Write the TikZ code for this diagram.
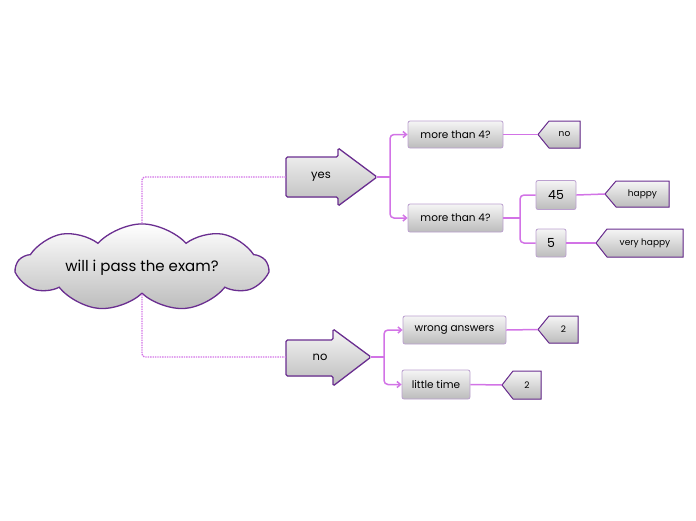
\documentclass[tikz,border=0pt]{standalone}
\usepackage{fontspec}
\setmainfont{Poppins}
\usetikzlibrary{shapes.symbols,arrows.meta}
\definecolor{linkcol}{HTML}{D273E6}
\definecolor{darkpur}{HTML}{6A2E90}
\definecolor{boxline}{HTML}{BBA0CF}
\definecolor{shtop}{HTML}{F5F5F5}
\definecolor{shbot}{HTML}{BCBCBC}
% tag pointing left: name, tip x, right x, centre y, half height, text
\newcommand\leaftag[6]{%
	\filldraw[tagline] (#2,#4) -- (#2+11,#4-#5) -- (#3,#4-#5)
	-- (#3,#4+#5) -- (#2+11,#4+#5) -- cycle;
	\coordinate (#1) at (#2,#4);
	\node[font=\fontsize{9}{10}\selectfont] (#1text) at ({(#2+11+#3)/2},#4) {#6};
}
\begin{document}
\begin{tikzpicture}[x=1pt,y=-1pt,
	link/.style={draw=linkcol,line width=1.5pt,rounded corners=4pt},
	dotlink/.style={draw=linkcol,line width=1.4pt,densely dotted,rounded corners=3pt},
	tip/.style={-{Straight Barb[length=3.5pt,width=6pt]}},
	box/.style={draw=boxline,line width=0.8pt,rounded corners=2pt,top color=shtop,bottom color=shbot,
		font=\fontsize{10.5}{12}\selectfont,inner sep=0pt},
	bigarrow/.style={draw=darkpur,line width=1.3pt,rounded corners=1.5pt,top color=shtop,bottom color=shbot},
	tagline/.style={draw=darkpur,line width=1pt,top color=shtop,bottom color=shbot}]
	\useasboundingbox (0,0) rectangle (696,520);
	% central cloud
	\node[cloud,cloud puffs=9,cloud puff arc=95,aspect=4,draw=darkpur,line width=1.3pt,
		top color=white,bottom color=shbot,minimum width=250,minimum height=62,
		font=\fontsize{15}{17}\selectfont] (exam) at (142,267.5) {will i pass the exam?};
	% yes / no arrows
	\filldraw[bigarrow] (286,157) -- (338,157) -- (338,148) -- (377,177)
	-- (338,206) -- (338,197) -- (286,197) -- cycle;
	\node[font=\fontsize{11.5}{12}\selectfont] (yes) at (321,177) {yes};
	\coordinate (yesin) at (286,177);
	\coordinate (yestip) at (377,177);
	\coordinate (yesfork) at (390,177);
	\filldraw[bigarrow] (286,340) -- (333,340) -- (333,329) -- (371,357)
	-- (333,386) -- (333,376) -- (286,376) -- cycle;
	\node[font=\fontsize{11.5}{12}\selectfont] (no) at (320,357) {no};
	\coordinate (noin) at (286,357);
	\coordinate (notip) at (371,357);
	\coordinate (nofork) at (384,357);
	\draw[dotlink] (exam.north) |- (yesin);
	\draw[dotlink] (exam.south) |- (noin);
	% boxes
	\node[box,minimum width=95,minimum height=27] (q1) at (455.5,134.5) {more than 4?};
	\node[box,minimum width=95,minimum height=28] (q2) at (455.5,218) {more than 4?};
	\node[box,minimum width=40,minimum height=29,font=\fontsize{12.5}{14}\selectfont] (n45) at (556,195) {45};
	\node[box,minimum width=30,minimum height=28,font=\fontsize{12.5}{14}\selectfont] (n5) at (551,243) {5};
	\node[box,minimum width=103,minimum height=28] (wrong) at (454.5,330) {wrong answers};
	\node[box,minimum width=68,minimum height=29] (little) at (436,384.5) {little time};
	% tags
	\leaftag{tno}{538}{580}{134.5}{13.5}{no}
	\leaftag{thappy}{605}{669}{194}{13}{happy}
	\leaftag{tvery}{596}{683}{243}{14}{very happy}
	\leaftag{twrong}{538}{578}{329.5}{13.5}{2}
	\leaftag{tlittle}{502}{541}{385}{14}{2}
	% connectors
	\draw[link] (yestip) -- (yesfork);
	\draw[link,tip] (yesfork) |- (q1.west);
	\draw[link,tip] (yesfork) |- (q2.west);
	\draw[link] (notip) -- (nofork);
	\draw[link,tip] (nofork) |- (wrong.west);
	\draw[link,tip] (nofork) |- (little.west);
	\coordinate (q2fork) at (520,218);
	\draw[link] (q2.east) -- (q2fork);
	\draw[link] (q2fork) |- (n45.west);
	\draw[link] (q2fork) |- (n5.west);
	\draw[link] (q1.east) -- (tno);
	\draw[link] (n45.east) -- (thappy);
	\draw[link] (n5.east) -- (tvery);
	\draw[link] (wrong.east) -- (twrong);
	\draw[link] (little.east) -- (tlittle);
\end{tikzpicture}
\end{document}
